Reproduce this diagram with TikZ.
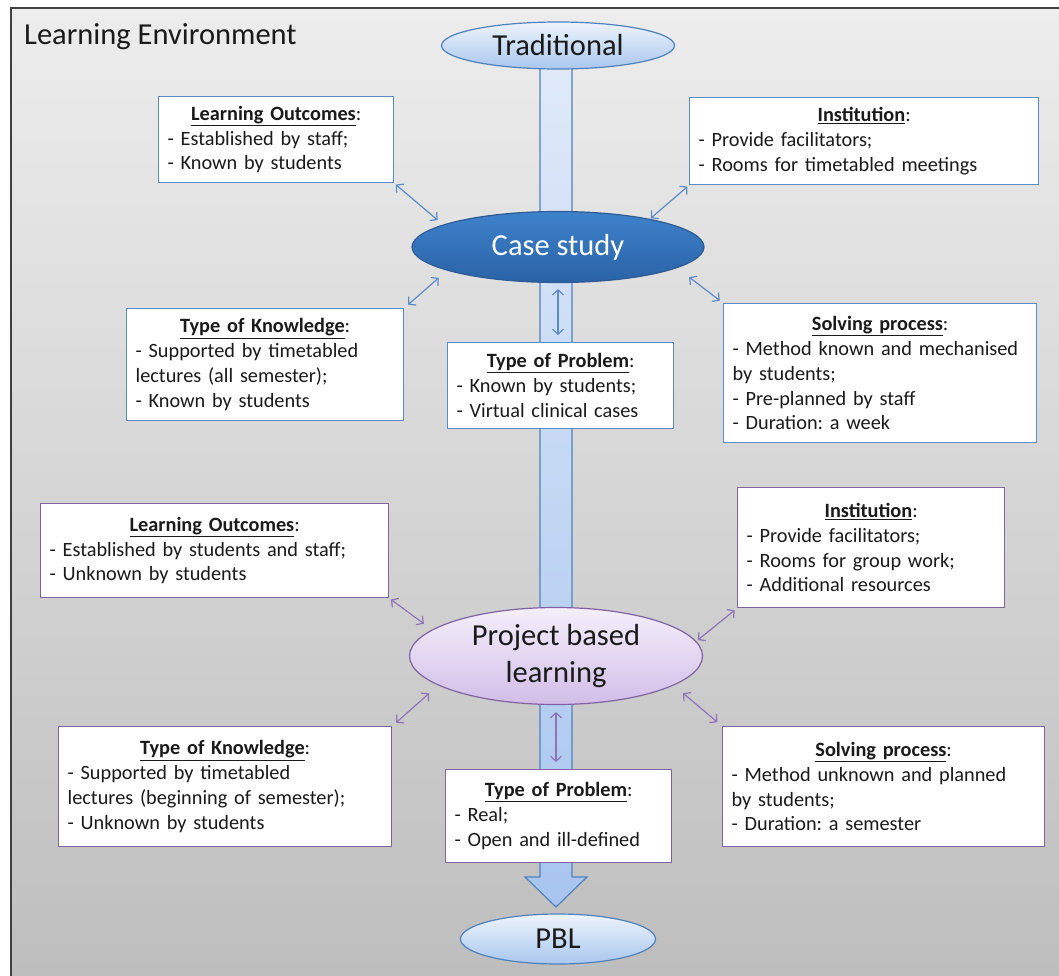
\documentclass[tikz,border=0pt]{standalone}
\usepackage{fontspec}
\setmainfont{Carlito}
\usetikzlibrary{shapes.geometric,arrows.meta}
\definecolor{bblue}{HTML}{4F81BD}
\definecolor{lblue}{HTML}{5B8CC8}
\definecolor{ppurple}{HTML}{8064A2}
\definecolor{lpurple}{HTML}{8F74B8}
\definecolor{bgtop}{HTML}{EDEDED}
\definecolor{bgbot}{HTML}{BDBDBD}
\definecolor{frame}{HTML}{404040}
\definecolor{bartop}{HTML}{DFE9F8}
\definecolor{barbot}{HTML}{A8C5EF}
\definecolor{elltop}{HTML}{EEF4FC}
\definecolor{ellbot}{HTML}{A9C7EF}
\definecolor{cstop}{HTML}{3E82CC}
\definecolor{csbot}{HTML}{2A62A6}
\definecolor{csline}{HTML}{2F5C95}
\definecolor{pbltop}{HTML}{F5EFFB}
\definecolor{pblbot}{HTML}{D2BEE8}
\definecolor{ink}{HTML}{1A1A1A}
\frenchspacing
\newcommand{\bodyfont}{\fontsize{20.3}{24.8}\selectfont}
\newcommand{\bigfont}{\fontsize{30.5}{37}\selectfont}
\newcommand{\boxtitle}[1]{\makebox[\linewidth][c]{\underline{\textbf{#1}}:}}
\begin{document}
\begin{tikzpicture}[x=1pt,y=-1pt,
  infobox/.style={draw=#1, line width=1.3, fill=white, anchor=north west,
    align=left, inner xsep=9pt, inner ysep=3pt, font=\bodyfont, text=ink},
  ellbase/.style={ellipse, inner sep=0pt, line width=1.2, font=\bigfont, align=center},
  link/.style={draw=#1, line width=1.2,
    {Straight Barb[length=5pt,width=11pt]}-{Straight Barb[length=5pt,width=11pt]}}
]
\useasboundingbox (0,0) rectangle (1059,975);
\clip (0,0) rectangle (1059,975);
% background panel
\path[top color=bgtop, bottom color=bgbot] (11,8) rectangle (1080,995);
\draw[frame, line width=2.6] (11,995) -- (11,8) -- (1080,8);
\node[anchor=base west, font=\bigfont, text=ink, inner sep=0pt] (title) at (24,44) {Learning Environment};

% big vertical arrow
\path[draw=bblue, line width=1.2, top color=bartop, bottom color=barbot]
  (540,68) -- (540,877) -- (525,877) -- (556,907) -- (587,877) -- (572,877) -- (572,68) -- cycle;

% ellipses
\node[ellbase, draw=bblue, top color=elltop, bottom color=ellbot, text=ink,
  minimum width=233, minimum height=47] (trad) at (558,45.5) {Traditional};
\node[ellbase, draw=csline, top color=cstop, bottom color=csbot, text=white,
  minimum width=292, minimum height=71] (cs) at (558,247) {Case study};
\node[ellbase, draw=ppurple, top color=pbltop, bottom color=pblbot, text=ink,
  minimum width=293, minimum height=97] (pjl) at (556,656) {Project based\\learning};
\node[ellbase, draw=bblue, top color=elltop, bottom color=ellbot, text=ink,
  minimum width=195, minimum height=50] (pbl) at (558,939) {PBL};

% top boxes (case study)
\node[infobox=lblue, text width=217, minimum height=86] (lot) at (158,96)
  {\boxtitle{Learning Outcomes}\\- Established by staff;\\- Known by students};
\node[infobox=lblue, text width=331, minimum height=87] (int) at (689,97)
  {\boxtitle{Institution}\\- Provide facilitators;\\- Rooms for timetabled meetings};
\node[infobox=lblue, text width=259, minimum height=112] (tkt) at (126,308)
  {\boxtitle{Type of Knowledge}\\- Supported by timetabled\\lectures (all semester);\\- Known by students};
\node[infobox=lblue, text width=208, minimum height=86] (tpt) at (447,342)
  {\boxtitle{Type of Problem}\\- Known by students;\\- Virtual clinical cases};
\node[infobox=lblue, text width=295, minimum height=139] (spt) at (723,303)
  {\boxtitle{Solving process}\\- Method known and mechanised\\by students;\\- Pre-planned by staff\\- Duration: a week};

% bottom boxes (project based learning)
\node[infobox=ppurple, text width=330, minimum height=94] (lob) at (40,503)
  {\boxtitle{Learning Outcomes}\\- Established by students and staff;\\- Unknown by students};
\node[infobox=ppurple, text width=249, minimum height=120] (inb) at (737,487)
  {\boxtitle{Institution}\\- Provide facilitators;\\- Rooms for group work;\\- Additional resources};
\node[infobox=ppurple, text width=315, minimum height=120] (tkb) at (58,726)
  {\boxtitle{Type of Knowledge}\\- Supported by timetabled\\lectures (beginning of semester);\\- Unknown by students};
\node[infobox=ppurple, text width=208, minimum height=93] (tpb) at (445,769)
  {\boxtitle{Type of Problem}\\- Real;\\- Open and ill-defined};
\node[infobox=ppurple, text width=304, minimum height=120] (spb) at (722,726)
  {\boxtitle{Solving process}\\- Method unknown and planned\\by students;\\- Duration: a semester};

% connectors, case study
\draw[link=lblue, shorten <=2pt, shorten >=7pt] (lot.south east) -- (cs.169);
\draw[link=lblue, shorten <=2pt, shorten >=1pt] (int.south west) -- (cs.17);
\draw[link=lblue, shorten <=11pt, shorten >=5pt] (cs.192) -- (tkt.north east);
\draw[link=lblue, shorten <=15pt, shorten >=4pt] (cs.350) -- (spt.north west);
\draw[link=lblue, shorten <=6pt, shorten >=7pt] (cs.south) -- (cs.south |- tpt.north);

% connectors, project based learning
\draw[link=lpurple, shorten <=2pt, shorten >=10pt] (lob.south east) -- (pjl.168);
\draw[link=lpurple, shorten <=3pt, shorten >=2pt] (inb.south west) -- (pjl.6);
\draw[link=lpurple, shorten <=12pt, shorten >=5pt] (pjl.194) -- (tkb.north east);
\draw[link=lpurple, shorten <=12pt, shorten >=6pt] (pjl.346) -- (spb.north west);
\draw[link=lpurple, shorten <=7pt, shorten >=7pt] (pjl.south) -- (pjl.south |- tpb.north);
\end{tikzpicture}
\end{document}
